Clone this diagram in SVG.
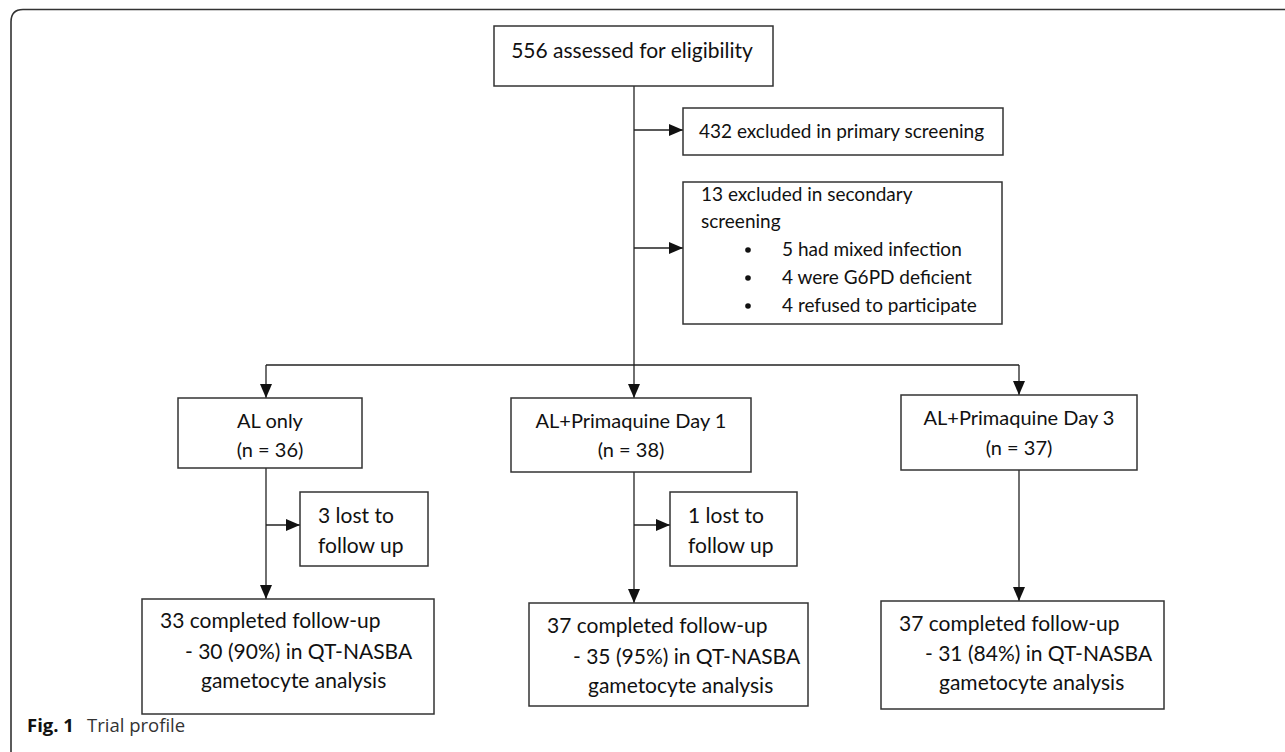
<svg xmlns="http://www.w3.org/2000/svg" width="1285" height="752" viewBox="0 0 1285 752">
<defs>
<style>
.box{fill:#fff;stroke:#333;stroke-width:1.5}
.t{font-family:Lato,"Open Sans","Liberation Sans",sans-serif;font-size:19px;fill:#111}
.s20{font-size:20px}
.s21{font-size:21px}
.c{text-anchor:middle}
.ln{stroke:#222;stroke-width:1.3;fill:none}
.cap{font-family:"Open Sans","Noto Sans","Liberation Sans",sans-serif;font-size:18.5px;fill:#333}
</style>
<marker id="ah" markerUnits="userSpaceOnUse" markerWidth="14" markerHeight="14" viewBox="0 0 14 14" refX="14" refY="7" orient="auto">
<path d="M0,1 L14,7 L0,13 Z" fill="#111"/>
</marker>
</defs>
<rect width="1285" height="752" fill="#fff"/>
<path d="M11,752 L11,22 Q11,9.5 23,9.5 L1285,9.5" fill="none" stroke="#333" stroke-width="1.6"/>
<g id="connectors">
<line class="ln" x1="634" y1="86" x2="634" y2="365"/>
<line class="ln" x1="634" y1="130" x2="683" y2="130" marker-end="url(#ah)"/>
<line class="ln" x1="634" y1="248" x2="683" y2="248" marker-end="url(#ah)"/>
<line class="ln" x1="266" y1="365" x2="1019" y2="365"/>
<line class="ln" x1="266" y1="365" x2="266" y2="398" marker-end="url(#ah)"/>
<line class="ln" x1="634" y1="365" x2="634" y2="398" marker-end="url(#ah)"/>
<line class="ln" x1="1019" y1="365" x2="1019" y2="395" marker-end="url(#ah)"/>
<line class="ln" x1="266" y1="468" x2="266" y2="599" marker-end="url(#ah)"/>
<line class="ln" x1="266" y1="525" x2="300" y2="525" marker-end="url(#ah)"/>
<line class="ln" x1="634" y1="472" x2="634" y2="603" marker-end="url(#ah)"/>
<line class="ln" x1="634" y1="525" x2="670" y2="525" marker-end="url(#ah)"/>
<line class="ln" x1="1019" y1="470" x2="1019" y2="601" marker-end="url(#ah)"/>
</g>
<g id="assessed">
<rect class="box" x="494" y="26" width="279" height="60"/>
<text class="t s21 c" x="632" y="58">556 assessed for eligibility</text>
</g>
<g id="excluded-primary">
<rect class="box" x="683" y="108" width="320" height="47"/>
<text class="t" x="699" y="138">432 excluded in primary screening</text>
</g>
<g id="excluded-secondary">
<rect class="box" x="683" y="182" width="319" height="142"/>
<text class="t" x="701" y="201">13 excluded in secondary</text>
<text class="t" x="701" y="228">screening</text>
<circle cx="748" cy="250" r="2.8" fill="#111"/>
<circle cx="748" cy="278" r="2.8" fill="#111"/>
<circle cx="748" cy="306" r="2.8" fill="#111"/>
<text class="t" x="782" y="256">5 had mixed infection</text>
<text class="t" x="782" y="284">4 were G6PD deficient</text>
<text class="t" x="782" y="312">4 refused to participate</text>
</g>
<g id="al-only">
<rect class="box" x="178" y="398" width="184" height="70"/>
<text class="t s20 c" x="270" y="428">AL only</text>
<text class="t s20 c" x="270" y="457">(n = 36)</text>
</g>
<g id="al-pq-day1">
<rect class="box" x="511" y="398" width="240" height="74"/>
<text class="t s20 c" x="631" y="428">AL+Primaquine Day 1</text>
<text class="t s20 c" x="631" y="457">(n = 38)</text>
</g>
<g id="al-pq-day3">
<rect class="box" x="901" y="395" width="236" height="75"/>
<text class="t s20 c" x="1019" y="425">AL+Primaquine Day 3</text>
<text class="t s20 c" x="1019" y="455">(n = 37)</text>
</g>
<g id="lost-1">
<rect class="box" x="300" y="492" width="128" height="74"/>
<text class="t s21" x="318" y="523">3 lost to</text>
<text class="t s21" x="318" y="553">follow up</text>
</g>
<g id="lost-2">
<rect class="box" x="670" y="492" width="127" height="74"/>
<text class="t s21" x="688" y="523">1 lost to</text>
<text class="t s21" x="688" y="553">follow up</text>
</g>
<g id="completed-1">
<rect class="box" x="142" y="599" width="292" height="115"/>
<text class="t s21" x="160" y="628">33 completed follow-up</text>
<text class="t s21" x="185" y="659">- 30 (90%) in QT-NASBA</text>
<text class="t s21" x="201" y="688">gametocyte analysis</text>
</g>
<g id="completed-2">
<rect class="box" x="529" y="603" width="279" height="103"/>
<text class="t s21" x="547" y="633">37 completed follow-up</text>
<text class="t s21" x="573" y="664">- 35 (95%) in QT-NASBA</text>
<text class="t s21" x="588" y="693">gametocyte analysis</text>
</g>
<g id="completed-3">
<rect class="box" x="881" y="601" width="283" height="108"/>
<text class="t s21" x="899" y="631">37 completed follow-up</text>
<text class="t s21" x="925" y="661">- 31 (84%) in QT-NASBA</text>
<text class="t s21" x="939" y="690">gametocyte analysis</text>
</g>
<g id="caption">
<text class="cap" x="27" y="732"><tspan font-weight="bold" fill="#111">Fig. 1</tspan><tspan x="87">Trial profile</tspan></text>
</g>
</svg>
